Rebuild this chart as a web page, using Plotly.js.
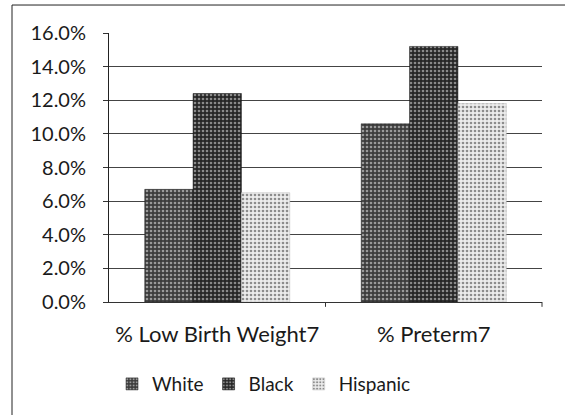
<!DOCTYPE html>
<html><head><meta charset="utf-8">
<script src="https://cdn.plot.ly/plotly-3.0.1.min.js"></script>
<style>html,body{margin:0;padding:0;background:#fff}#chart{width:565px;height:415px}</style>
</head><body><div id="chart"></div>
<script>
const categories = ['% Low Birth Weight7', '% Preterm7'];
const seriesNames = ['White', 'Black', 'Hispanic'];
const whiteVals = [0.067, 0.106];
const blackVals = [0.124, 0.152];
const hispanicVals = [0.065, 0.118];
const yTicks = [0, 0.02, 0.04, 0.06, 0.08, 0.10, 0.12, 0.14, 0.16];

const styles = [
  {bg: '#3c3c3c', fg: '#9a9a9a', line: '#222'},
  {bg: '#262626', fg: '#8a8a8a', line: '#111'},
  {bg: '#ececec', fg: '#8c8c8c', line: '#bbb'}
];
const vals = [whiteVals, blackVals, hispanicVals];
const traces = seriesNames.map((n, i) => ({
  type: 'bar', name: n, x: categories, y: vals[i],
  marker: {
    color: styles[i].bg,
    line: {color: styles[i].line, width: 0.5},
    pattern: {shape: '.', bgcolor: styles[i].bg, fgcolor: styles[i].fg, size: 4, solidity: 0.35, fillmode: 'replace'}
  },
  hoverinfo: 'none'
}));

const F = 'Lato, "Open Sans", sans-serif';
const layout = {
  width: 565, height: 415,
  margin: {l: 109, r: 23, t: 33, b: 113},
  paper_bgcolor: '#fff', plot_bgcolor: '#fff',
  barmode: 'group', bargap: 0.33, bargroupgap: 0,
  font: {family: F, size: 20, color: '#1a1a1a'},
  showlegend: true,
  legend: {orientation: 'h', x: 0.007, xanchor: 'left', y: -0.305, yanchor: 'middle',
           font: {family: F, size: 19, color: '#1a1a1a'}, traceorder: 'normal', itemwidth: 30},
  xaxis: {showline: true, linecolor: '#333', linewidth: 1, ticks: '', showgrid: false,
          tickfont: {family: F, size: 22, color: '#1a1a1a'}, ticklabelstandoff: 13},
  yaxis: {range: [0, 0.16], tickvals: yTicks, tickformat: '.1%', showline: true, linecolor: '#222',
          linewidth: 1, ticks: 'outside', ticklen: 5, tickcolor: '#333', gridcolor: '#444', gridwidth: 1,
          zeroline: false, tickfont: {family: F, size: 20, color: '#1a1a1a'}, ticklabelstandoff: 13},
  shapes: [
    {type: 'rect', xref: 'paper', yref: 'paper', x0: -0.224, x1: 1.2, y0: -0.6, y1: 1.104,
     line: {color: '#222', width: 1}, fillcolor: 'rgba(0,0,0,0)', layer: 'below'},
    {type: 'line', xref: 'paper', yref: 'paper', x0: 0.5, x1: 0.5, y0: 0, y1: -0.018, line: {color: '#333', width: 1}},
    {type: 'line', xref: 'paper', yref: 'paper', x0: 1, x1: 1, y0: 0, y1: -0.018, line: {color: '#333', width: 1}}
  ]
};
Plotly.newPlot('chart', traces, layout, {displayModeBar: false, staticPlot: true});
</script></body></html>
